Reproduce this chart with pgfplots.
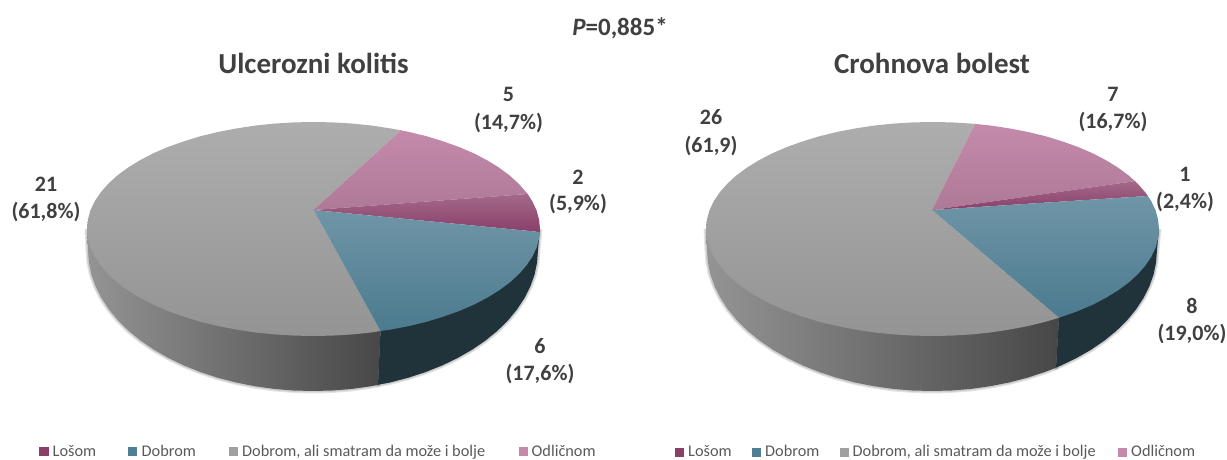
\documentclass[border=0pt]{standalone}
\usepackage{fontspec}
\setmainfont{Carlito}
\usepackage{pgfplots}
\usepackage{pgfplotstable}
\pgfplotsset{compat=1.18}

\definecolor{txt}{HTML}{404040}
\definecolor{legtxt}{HTML}{595959}
\definecolor{losom}{HTML}{8A3F69}
\definecolor{dobrom}{HTML}{4F7F94}
\definecolor{ali}{HTML}{A0A0A0}
\definecolor{odlicnom}{HTML}{C58AAB}

% ---- Ulcerozni kolitis: outlines in picture pixels, y down
\pgfplotstableread[row sep=\\]{x y\\
313.5 210\\ 539.9 232\\ 539.1 238.3\\ 536.6 247.6\\ 532.3 256.7\\ 526.3 265.6\\ 518.8 274.2\\ 509.7 282.5\\ 499 290.4\\ 487 297.8\\ 473.7 304.7\\ 459.1 311\\ 443.4 316.6\\ 426.8 321.7\\ 409.2 326\\ 391 329.5\\ 380.5 331\\
}\tealL
\pgfplotstableread[row sep=\\]{x y\\
313.5 210\\ 527.7 194\\ 532.3 201.3\\ 536.6 210.4\\ 539.1 219.7\\ 540 229\\ 539.9 232\\
}\maroonL
\pgfplotstableread[row sep=\\]{x y\\
313.5 210\\ 401 130.3\\ 409.2 132\\ 426.8 136.3\\ 443.4 141.4\\ 459.1 147\\ 473.7 153.3\\ 487 160.2\\ 499 167.6\\ 509.7 175.5\\ 518.8 183.8\\ 526.3 192.4\\ 527.7 194\\
}\pinkL
\pgfplotstableread[row sep=\\]{x y\\
313.5 210\\ 380.5 331\\ 372.1 332.4\\ 352.8 334.4\\ 333.2 335.6\\ 313.5 336\\ 293.8 335.6\\ 274.2 334.4\\ 254.9 332.4\\ 236 329.5\\ 217.8 326\\ 200.2 321.7\\ 183.6 316.6\\ 167.9 311\\ 153.3 304.7\\ 140 297.8\\ 128 290.4\\ 117.3 282.5\\ 108.2 274.2\\ 100.7 265.6\\ 94.7 256.7\\ 90.4 247.6\\ 87.9 238.3\\ 87 229\\ 87.9 219.7\\ 90.4 210.4\\ 94.7 201.3\\ 100.7 192.4\\ 108.2 183.8\\ 117.3 175.5\\ 128 167.6\\ 140 160.2\\ 153.3 153.3\\ 167.9 147\\ 183.6 141.4\\ 200.2 136.3\\ 217.8 132\\ 236 128.5\\ 254.9 125.6\\ 274.2 123.6\\ 293.8 122.4\\ 313.5 122\\ 333.2 122.4\\ 352.8 123.6\\ 372.1 125.6\\ 391 128.5\\ 401 130.3\\
}\grayL
\pgfplotstableread[row sep=\\]{x y\\
540 229\\ 538 250\\ 537.1 262.3\\ 534.6 274.5\\ 530.3 286.5\\ 524.4 298.2\\ 516.9 309.6\\ 507.9 320.5\\ 497.3 330.9\\ 485.4 340.6\\ 472.1 349.7\\ 457.6 358\\ 442.1 365.5\\ 425.5 372.1\\ 408.1 377.8\\ 390 382.5\\ 378 384.8\\ 380.5 331\\
}\wallTealL
\pgfplotstableread[row sep=\\]{x y\\
380.5 331\\ 378 384.8\\ 371.2 386.2\\ 352.1 388.9\\ 332.6 390.5\\ 313 391\\ 293.4 390.5\\ 273.9 388.9\\ 254.8 386.2\\ 236 382.5\\ 217.9 377.8\\ 200.5 372.1\\ 183.9 365.5\\ 168.4 358\\ 153.9 349.7\\ 140.6 340.6\\ 128.7 330.9\\ 118.1 320.5\\ 109.1 309.6\\ 101.6 298.2\\ 95.7 286.5\\ 91.4 274.5\\ 88.9 262.3\\ 88 250\\ 87 229\\
}\wallGrayL

% ---- Crohnova bolest
\pgfplotstableread[row sep=\\]{x y\\
932 210\\ 1147.9 196\\ 1151.3 201.3\\ 1155.6 210.4\\ 1158.1 219.7\\ 1159 229\\ 1158.1 238.3\\ 1155.6 247.6\\ 1151.3 256.7\\ 1145.3 265.6\\ 1137.8 274.2\\ 1128.7 282.5\\ 1118 290.4\\ 1106 297.8\\ 1092.7 304.7\\ 1078.1 311\\ 1062.4 316.6\\ 1059 317.7\\
}\tealR
\pgfplotstableread[row sep=\\]{x y\\
932 210\\ 1135 181.1\\ 1137.8 183.8\\ 1145.3 192.4\\ 1147.9 196\\
}\maroonR
\pgfplotstableread[row sep=\\]{x y\\
932 210\\ 975 123.9\\ 991.1 125.6\\ 1010 128.5\\ 1028.2 132\\ 1045.8 136.3\\ 1062.4 141.4\\ 1078.1 147\\ 1092.7 153.3\\ 1106 160.2\\ 1118 167.6\\ 1128.7 175.5\\ 1135 181.1\\
}\pinkR
\pgfplotstableread[row sep=\\]{x y\\
932 210\\ 1059 317.7\\ 1045.8 321.7\\ 1028.2 326\\ 1010 329.5\\ 991.1 332.4\\ 971.8 334.4\\ 952.2 335.6\\ 932.5 336\\ 912.8 335.6\\ 893.2 334.4\\ 873.9 332.4\\ 855 329.5\\ 836.8 326\\ 819.2 321.7\\ 802.6 316.6\\ 786.9 311\\ 772.3 304.7\\ 759 297.8\\ 747 290.4\\ 736.3 282.5\\ 727.2 274.2\\ 719.7 265.6\\ 713.7 256.7\\ 709.4 247.6\\ 706.9 238.3\\ 706 229\\ 706.9 219.7\\ 709.4 210.4\\ 713.7 201.3\\ 719.7 192.4\\ 727.2 183.8\\ 736.3 175.5\\ 747 167.6\\ 759 160.2\\ 772.3 153.3\\ 786.9 147\\ 802.6 141.4\\ 819.2 136.3\\ 836.8 132\\ 855 128.5\\ 873.9 125.6\\ 893.2 123.6\\ 912.8 122.4\\ 932.5 122\\ 952.2 122.4\\ 971.8 123.6\\ 975 123.9\\
}\grayR
\pgfplotstableread[row sep=\\]{x y\\
1159 229\\ 1157 250\\ 1156.1 262.3\\ 1153.6 274.5\\ 1149.3 286.5\\ 1143.4 298.2\\ 1135.9 309.6\\ 1126.9 320.5\\ 1116.3 330.9\\ 1104.4 340.6\\ 1091.1 349.7\\ 1076.6 358\\ 1061.1 365.5\\ 1056 367.7\\ 1059 317.7\\
}\wallTealR
\pgfplotstableread[row sep=\\]{x y\\
1059 317.7\\ 1056 367.7\\ 1044.5 372.1\\ 1027.1 377.8\\ 1009 382.5\\ 990.2 386.2\\ 971.1 388.9\\ 951.6 390.5\\ 932 391\\ 912.4 390.5\\ 892.9 388.9\\ 873.8 386.2\\ 855 382.5\\ 836.9 377.8\\ 819.5 372.1\\ 802.9 365.5\\ 787.4 358\\ 772.9 349.7\\ 759.6 340.6\\ 747.7 330.9\\ 737.1 320.5\\ 728.1 309.6\\ 720.6 298.2\\ 714.7 286.5\\ 710.4 274.5\\ 707.9 262.3\\ 707 250\\ 706 229\\
}\wallGrayR

\pgfplotsset{
  shadow/.style={draw=black,draw opacity=0.10,line width=#1,fill=none,line join=round},
  slicegray/.style={top color=black!32!white,bottom color=black!42!white,draw=none},
  slicepink/.style={top color=odlicnom!100!white,bottom color=odlicnom!88!black,draw=none},
  slicemaroon/.style={top color=losom!78!white,bottom color=losom,draw=none},
  sliceteal/.style={top color=dobrom!82!white,bottom color=dobrom!96!black,draw=none},
  wallgray/.style={left color=black!42!white,right color=black!72!white,draw=none},
  wallteal/.style={fill=dobrom!40!black,draw=none},
}

\begin{document}
\begin{tikzpicture}
% hidden axis does not count for the page size
\useasboundingbox (0,0) rectangle (1227pt,460pt);
\begin{axis}[
    at={(0,0)}, anchor=south west,
    width=1227pt, height=460pt, scale only axis,
    xmin=0, xmax=1227, ymin=0, ymax=460, y dir=reverse,
    hide axis, clip=false,
]
% soft shadow under the walls
\addplot[shadow=5pt] table {\wallGrayL};
\addplot[shadow=3pt] table {\wallGrayL};
\addplot[shadow=5pt] table {\wallTealL};
\addplot[shadow=3pt] table {\wallTealL};
\addplot[shadow=5pt] table {\wallGrayR};
\addplot[shadow=3pt] table {\wallGrayR};
\addplot[shadow=5pt] table {\wallTealR};
\addplot[shadow=3pt] table {\wallTealR};
% walls
\addplot[wallgray] table {\wallGrayL};
\addplot[wallteal] table {\wallTealL};
\addplot[wallgray] table {\wallGrayR};
\addplot[wallteal] table {\wallTealR};
% top faces
\addplot[slicegray] table {\grayL};
\addplot[slicepink] table {\pinkL};
\addplot[slicemaroon] table {\maroonL};
\addplot[sliceteal] table {\tealL};
\addplot[slicegray] table {\grayR};
\addplot[slicepink] table {\pinkR};
\addplot[slicemaroon] table {\maroonR};
\addplot[sliceteal] table {\tealR};
% legend squares
\addplot[only marks,mark=square*,mark size=4.2pt,color=losom] coordinates {(43.5,451)(679,452)};
\addplot[only marks,mark=square*,mark size=4.2pt,color=dobrom] coordinates {(132,451)(756,452)};
\addplot[only marks,mark=square*,mark size=4.2pt,color=ali] coordinates {(233,451)(844,452)};
\addplot[only marks,mark=square*,mark size=4.2pt,color=odlicnom] coordinates {(523,451)(1122,452)};

% titles
\node[font=\fontsize{25}{29}\selectfont\bfseries,text=txt] at (axis cs:620,28) {\textit{P}=0,885*};
\node[font=\fontsize{29}{33}\selectfont\bfseries,text=txt] at (axis cs:313.5,63) {Ulcerozni kolitis};
\node[font=\fontsize{29}{33}\selectfont\bfseries,text=txt] at (axis cs:932,63) {Crohnova bolest};

% slice labels
\tikzset{lab/.style={font=\fontsize{22}{26}\selectfont\bfseries,text=txt}}
\node[lab] at (axis cs:46,184) {21};
\node[lab] at (axis cs:46,212) {(61,8\%)};
\node[lab] at (axis cs:508.5,94) {5};
\node[lab] at (axis cs:508.5,123) {(14,7\%)};
\node[lab] at (axis cs:578,177) {2};
\node[lab] at (axis cs:578,204) {(5,9\%)};
\node[lab] at (axis cs:540,346) {6};
\node[lab] at (axis cs:540,374) {(17,6\%)};
\node[lab] at (axis cs:711,117) {26};
\node[lab] at (axis cs:711,146) {(61,9)};
\node[lab] at (axis cs:1113,94) {7};
\node[lab] at (axis cs:1113,122) {(16,7\%)};
\node[lab] at (axis cs:1185,174) {1};
\node[lab] at (axis cs:1185,202) {(2,4\%)};
\node[lab] at (axis cs:1192,306) {8};
\node[lab] at (axis cs:1192,334) {(19,0\%)};

% legend text, on a common baseline above the page edge
\tikzset{leg/.style={font=\fontsize{16.3}{19}\selectfont,text=legtxt,anchor=base west,inner sep=0pt}}
\node[leg] at (axis cs:52.5,456) {Lošom};
\node[leg] at (axis cs:141.5,456) {Dobrom};
\node[leg] at (axis cs:242,456) {Dobrom, ali smatram da može i bolje};
\node[leg] at (axis cs:531.5,456) {Odličnom};
\node[leg] at (axis cs:688,456) {Lošom};
\node[leg] at (axis cs:765,456) {Dobrom};
\node[leg] at (axis cs:852.5,456) {Dobrom, ali smatram da može i bolje};
\node[leg] at (axis cs:1131,456) {Odličnom};
\end{axis}
\end{tikzpicture}
\end{document}
